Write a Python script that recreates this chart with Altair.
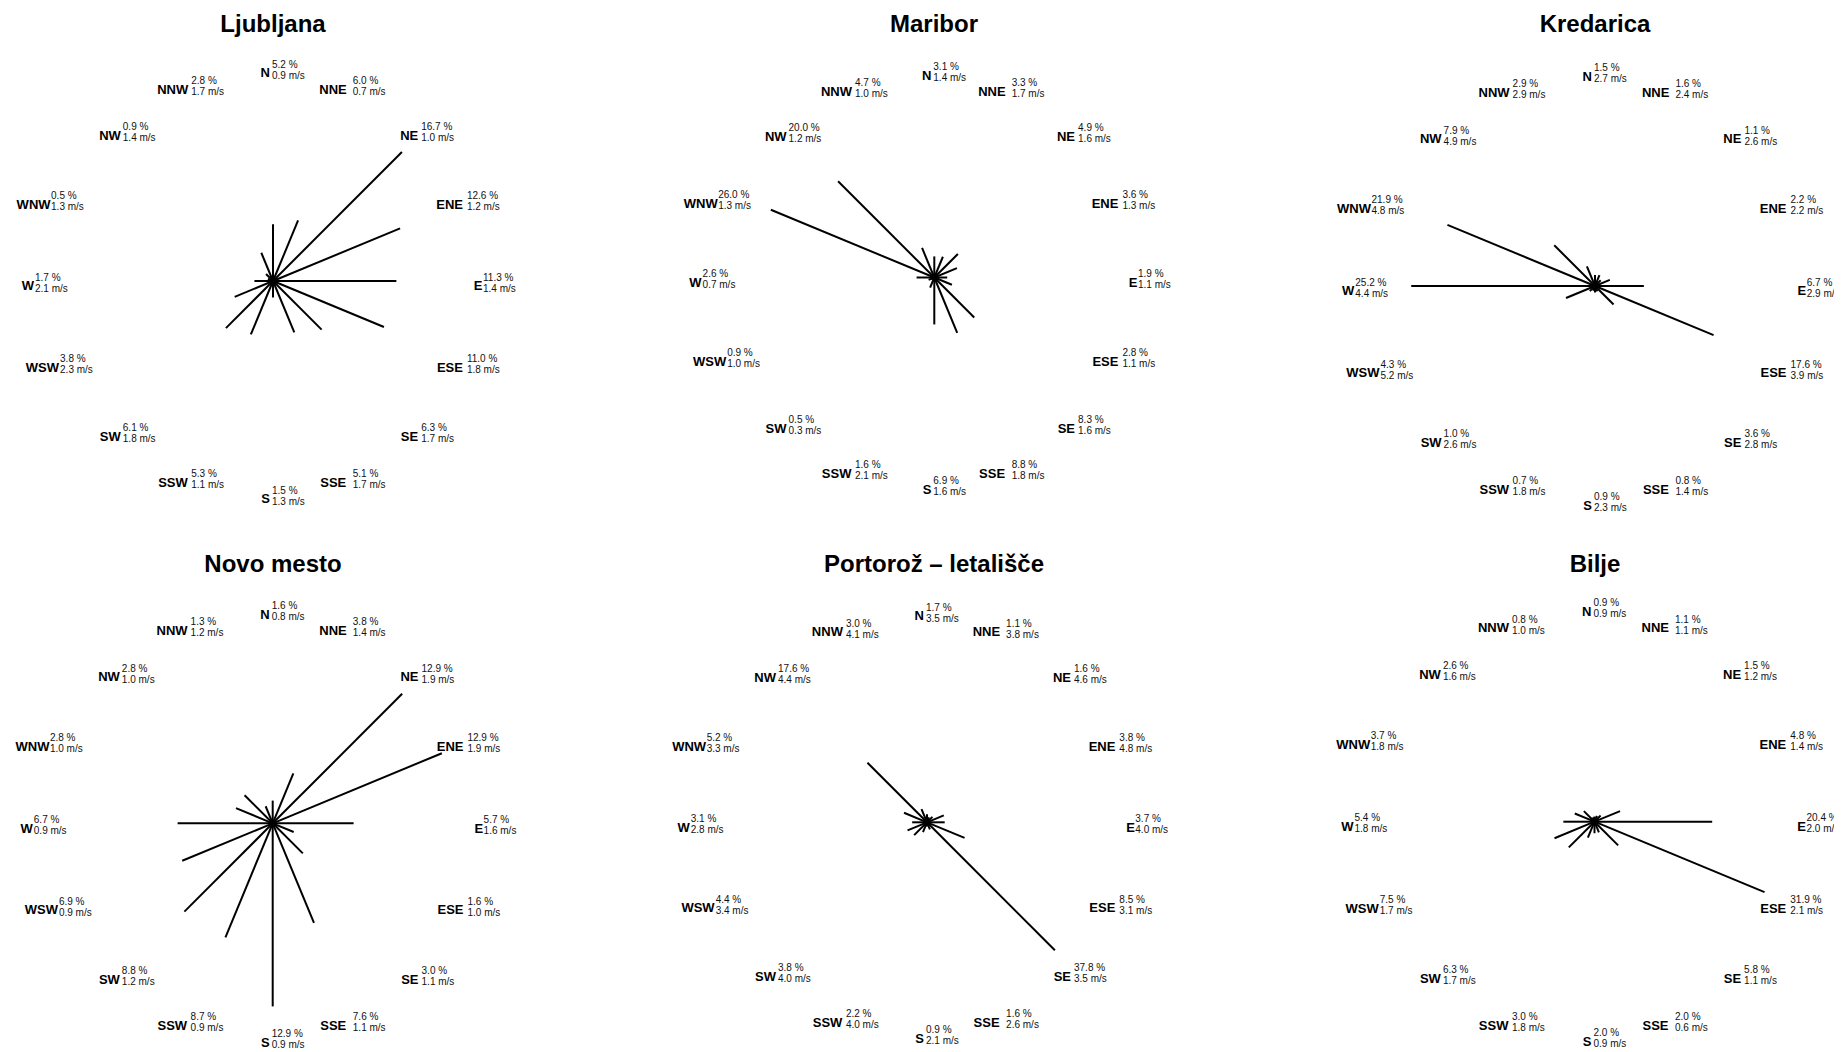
import math
import altair as alt
import pandas as pd

# ---------------- data ----------------
directions = ["N", "NNE", "NE", "ENE", "E", "ESE", "SE", "SSE",
              "S", "SSW", "SW", "WSW", "W", "WNW", "NW", "NNW"]

stations = ["Ljubljana", "Maribor", "Kredarica",
            "Novo mesto", "Portorož – letališče", "Bilje"]

ljubljana_pct = [5.2, 6.0, 16.7, 12.6, 11.3, 11.0, 6.3, 5.1, 1.5, 5.3, 6.1, 3.8, 1.7, 0.5, 0.9, 2.8]
ljubljana_speed = [0.9, 0.7, 1.0, 1.2, 1.4, 1.8, 1.7, 1.7, 1.3, 1.1, 1.8, 2.3, 2.1, 1.3, 1.4, 1.7]

maribor_pct = [3.1, 3.3, 4.9, 3.6, 1.9, 2.8, 8.3, 8.8, 6.9, 1.6, 0.5, 0.9, 2.6, 26.0, 20.0, 4.7]
maribor_speed = [1.4, 1.7, 1.6, 1.3, 1.1, 1.1, 1.6, 1.8, 1.6, 2.1, 0.3, 1.0, 0.7, 1.3, 1.2, 1.0]

kredarica_pct = [1.5, 1.6, 1.1, 2.2, 6.7, 17.6, 3.6, 0.8, 0.9, 0.7, 1.0, 4.3, 25.2, 21.9, 7.9, 2.9]
kredarica_speed = [2.7, 2.4, 2.6, 2.2, 2.9, 3.9, 2.8, 1.4, 2.3, 1.8, 2.6, 5.2, 4.4, 4.8, 4.9, 2.9]

novomesto_pct = [1.6, 3.8, 12.9, 12.9, 5.7, 1.6, 3.0, 7.6, 12.9, 8.7, 8.8, 6.9, 6.7, 2.8, 2.8, 1.3]
novomesto_speed = [0.8, 1.4, 1.9, 1.9, 1.6, 1.0, 1.1, 1.1, 0.9, 0.9, 1.2, 0.9, 0.9, 1.0, 1.0, 1.2]

portoroz_pct = [1.7, 1.1, 1.6, 3.8, 3.7, 8.5, 37.8, 1.6, 0.9, 2.2, 3.8, 4.4, 3.1, 5.2, 17.6, 3.0]
portoroz_speed = [3.5, 3.8, 4.6, 4.8, 4.0, 3.1, 3.5, 2.6, 2.1, 4.0, 4.0, 3.4, 2.8, 3.3, 4.4, 4.1]

bilje_pct = [0.9, 1.1, 1.5, 4.8, 20.4, 31.9, 5.8, 2.0, 2.0, 3.0, 6.3, 7.5, 5.4, 3.7, 2.6, 0.8]
bilje_speed = [0.9, 1.1, 1.2, 1.4, 2.0, 2.1, 1.1, 0.6, 0.9, 1.8, 1.7, 1.7, 1.8, 1.8, 1.6, 1.0]

series = {
    "Ljubljana": (ljubljana_pct, ljubljana_speed),
    "Maribor": (maribor_pct, maribor_speed),
    "Kredarica": (kredarica_pct, kredarica_speed),
    "Novo mesto": (novomesto_pct, novomesto_speed),
    "Portorož – letališče": (portoroz_pct, portoroz_speed),
    "Bilje": (bilje_pct, bilje_speed),
}

# ---------------- layout (pixels) ----------------
FONT = "Liberation Sans"
NBSP = "\u00a0"
TITLE_X = 265
SPACING = 131

# panel width, panel height, rose centre (x, y) in panel, label ring radius
layout = {
    "Ljubljana": dict(w=530, h=540, cx=265, cy=273, R=213),
    "Maribor": dict(w=530, h=540, cx=265.3, cy=269.5, R=206.7),
    "Kredarica": dict(w=504, h=540, cx=265, cy=278, R=214.7),
    "Novo mesto": dict(w=530, h=500, cx=264.7, cy=275.3, R=213.9),
    "Portorož – letališče": dict(w=530, h=500, cx=258, cy=274.3, R=211.3),
    "Bilje": dict(w=504, h=500, cx=264.5, cy=273.7, R=215),
}
# west-side labels sit a bit further out
west_shift = {"WSW": -17, "W": -26, "WNW": -26}
# gap between the bold direction name and its values
name_gap = {"N": 2, "NNE": 6, "NE": 3, "ENE": 4, "E": 0.5, "ESE": 4, "SE": 3, "SSE": 6.5,
            "S": 2, "SSW": 3.5, "SW": 2, "WSW": 1, "W": 1, "WNW": 0.5, "NW": 2, "NNW": 3}


def panel(name):
    pct, spd = series[name]
    lay = layout[name]
    W, H, cx, cy, R = lay["w"], lay["h"], lay["cx"], lay["cy"], lay["R"]
    k = 0.856 * R / max(pct)          # pixels per percent
    rows = []
    for i, d in enumerate(directions):
        t = math.radians(22.5 * i)
        p = pct[i]
        s = spd[i]
        lx_px = (R - 2) * math.sin(t) - 1 + west_shift.get(d, 0)
        ly_px = R * math.cos(t) - 1.3
        rows.append(dict(
            dir=d,
            x0=0.0, y0=0.0,
            x=p * math.sin(t), y=p * math.cos(t),
            lx=lx_px / k, ly=ly_px / k,
            bx=(lx_px - name_gap[d]) / k,
            pct_txt=(NBSP if p < 10 else "") + f"{p:.1f} %",
            spd_txt=(NBSP if s < 10 else "") + f"{s:.1f} m/s",
        ))
    df = pd.DataFrame(rows)
    xs = alt.Scale(domain=[-cx / k, (W - cx) / k], nice=False, zero=False)
    ys = alt.Scale(domain=[-(H - cy) / k, cy / k], nice=False, zero=False)

    base = alt.Chart(df)
    lines = base.mark_rule(color="black", strokeWidth=2).encode(
        x=alt.X("x0:Q", scale=xs, axis=None),
        y=alt.Y("y0:Q", scale=ys, axis=None),
        x2="x:Q", y2="y:Q",
    )
    lx = alt.X("lx:Q", scale=xs, axis=None)
    ly = alt.Y("ly:Q", scale=ys, axis=None)
    bold = base.mark_text(align="right", baseline="alphabetic", fontSize=13,
                          fontWeight="bold", font=FONT, color="black",
                          dy=8).encode(x=alt.X("bx:Q", scale=xs, axis=None),
                                       y=ly, text="dir:N")
    pct_t = base.mark_text(align="left", baseline="alphabetic", fontSize=10,
                           font=FONT, color="#111111", dy=-1.8, clip=True).encode(
        x=lx, y=ly, text="pct_txt:N")
    spd_t = base.mark_text(align="left", baseline="alphabetic", fontSize=10,
                           font=FONT, color="#111111", dy=9.2, clip=True).encode(
        x=lx, y=ly, text="spd_txt:N")
    title = alt.Chart(pd.DataFrame({"t": [name]})).mark_text(
        align="center", baseline="alphabetic", fontSize=24, fontWeight="bold",
        font=FONT, color="black").encode(
        x=alt.value(TITLE_X), y=alt.value(24), text="t:N")
    return alt.layer(lines, bold, pct_t, spd_t, title).properties(width=W, height=H)


row1 = alt.hconcat(*[panel(n) for n in stations[:3]], spacing=SPACING)
row2 = alt.hconcat(*[panel(n) for n in stations[3:]], spacing=SPACING)
chart = alt.vconcat(row1, row2, spacing=0).properties(
    padding=0
).configure(font=FONT).configure_view(stroke=None)

chart.save("out.html", embed_options={"renderer": "svg", "actions": False})
